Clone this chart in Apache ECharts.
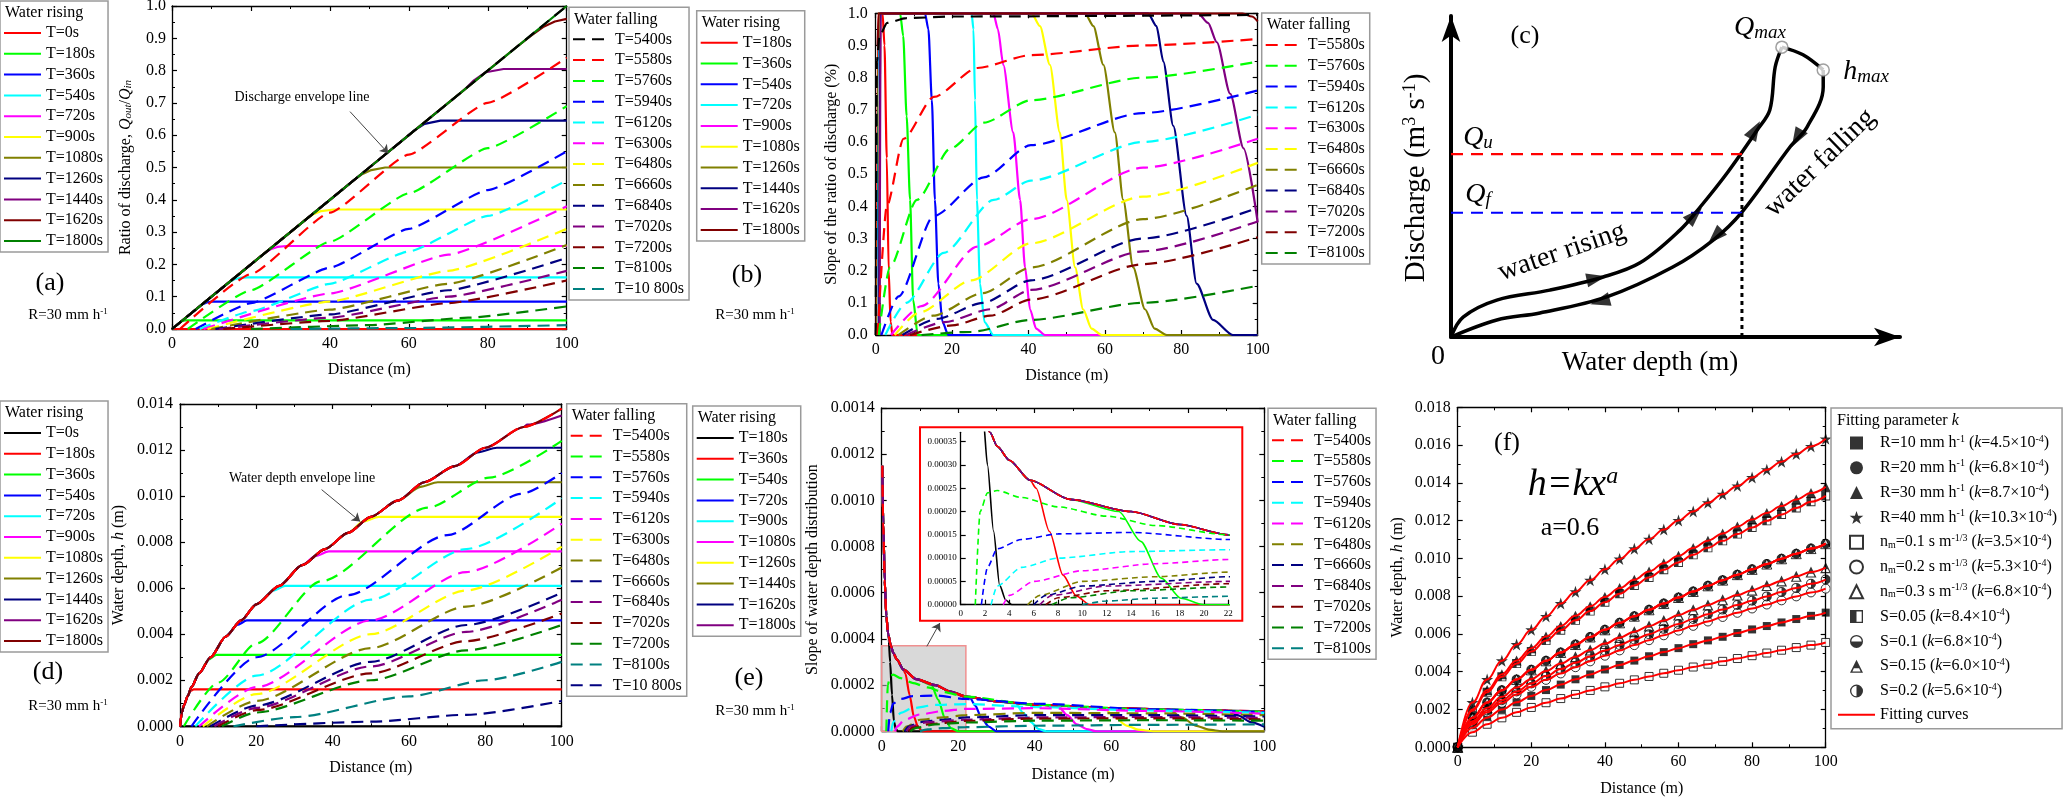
<!DOCTYPE html>
<html>
<head>
<meta charset="utf-8">
<script src="https://cdn.jsdelivr.net/npm/echarts@6/dist/echarts.min.js"></script>
<style>
html, body { margin: 0; padding: 0; background: #fff; }
#chart { width: 2067px; height: 798px; }
</style>
</head>
<body>
<div id="chart"></div>
<script>
/* ---------- data ---------- */

/* (a) ratio of discharge Qout/Qin vs distance */
var aRiseNames = ['T=0s', 'T=180s', 'T=360s', 'T=540s', 'T=720s', 'T=900s', 'T=1080s', 'T=1260s', 'T=1440s', 'T=1620s', 'T=1800s'];
var aEnvelope = [[0, 0], [10, 0.1], [20, 0.2], [30, 0.3], [40, 0.4], [50, 0.5], [60, 0.6], [70, 0.7], [80, 0.8], [90, 0.9], [100, 1.0]];
var aRiseTails = [
  [[0, 0], [100, 0]],
  [[2.4, 0.024], [3.5, 0.027], [100, 0.027]],
  [[7.5, 0.075], [8.8, 0.082], [10, 0.0845], [11.5, 0.085], [100, 0.085]],
  [[14.5, 0.145], [15.8, 0.154], [17.2, 0.158], [19, 0.16], [100, 0.16]],
  [[23.5, 0.235], [25, 0.247], [26.7, 0.254], [29, 0.257], [100, 0.257]],
  [[34, 0.34], [35.8, 0.355], [37.8, 0.365], [41, 0.37], [100, 0.37]],
  [[46, 0.46], [48, 0.478], [50.5, 0.492], [54, 0.5], [100, 0.5]],
  [[59, 0.59], [61.3, 0.614], [64, 0.635], [68, 0.645], [100, 0.645]],
  [[74, 0.74], [76.5, 0.77], [79.5, 0.795], [84, 0.805], [100, 0.805]],
  [[88, 0.88], [91, 0.908], [94, 0.935], [97, 0.952], [100, 0.96]],
  [[100, 1.0]]
];
var aFallNames = ['T=5400s', 'T=5580s', 'T=5760s', 'T=5940s', 'T=6120s', 'T=6300s', 'T=6480s', 'T=6660s', 'T=6840s', 'T=7020s', 'T=7200s', 'T=8100s', 'T=10 800s'];
var aFall = [
  [[0, 0], [100, 1.0]],
  [[2, 0], [20, 0.17], [40, 0.36], [60, 0.54], [80, 0.7], [100, 0.84]],
  [[4, 0], [20, 0.12], [40, 0.27], [60, 0.42], [80, 0.56], [100, 0.69]],
  [[6, 0], [20, 0.08], [40, 0.19], [60, 0.31], [80, 0.43], [100, 0.55]],
  [[7, 0], [20, 0.055], [40, 0.14], [60, 0.24], [80, 0.35], [100, 0.46]],
  [[8, 0], [40, 0.11], [70, 0.23], [100, 0.38]],
  [[9, 0], [40, 0.085], [70, 0.18], [100, 0.31]],
  [[10, 0], [40, 0.06], [70, 0.14], [100, 0.26]],
  [[11, 0], [40, 0.045], [70, 0.12], [100, 0.22]],
  [[12, 0], [40, 0.035], [70, 0.1], [100, 0.18]],
  [[13, 0], [40, 0.025], [70, 0.08], [100, 0.15]],
  [[20, 0], [50, 0.012], [75, 0.035], [100, 0.07]],
  [[30, 0], [60, 0.003], [100, 0.012]]
];

/* (b) slope of the ratio of discharge */
var bRiseNames = ['T=180s', 'T=360s', 'T=540s', 'T=720s', 'T=900s', 'T=1080s', 'T=1260s', 'T=1440s', 'T=1620s', 'T=1800s'];
var bRise = [
  [[0.3, 0], [0.6, 1], [1.8, 1], [2.3, 0.9], [2.9, 0.55], [3.4, 0.2], [3.9, 0.04], [4.4, 0], [100, 0]],
  [[0.5, 0], [0.8, 1], [6.4, 1], [7.2, 0.93], [8.1, 0.68], [9, 0.42], [9.8, 0.11], [11, 0], [100, 0]],
  [[0.6, 0], [0.9, 1], [12.9, 1], [13.8, 0.95], [14.7, 0.73], [15.5, 0.42], [16.4, 0.16], [17.5, 0.04], [19, 0], [100, 0]],
  [[0.7, 0], [1, 1], [25.1, 1], [25.6, 0.95], [26, 0.73], [26.5, 0.42], [27.3, 0.16], [28.5, 0.04], [30.8, 0], [100, 0]],
  [[0.8, 0], [1.1, 1], [30.8, 1], [32, 0.95], [33.4, 0.84], [36, 0.63], [37.8, 0.42], [39.1, 0.21], [40.4, 0.08], [42, 0.02], [44.3, 0], [100, 0]],
  [[0.8, 0], [1.1, 1], [40.8, 1], [43, 0.96], [45.6, 0.84], [48.2, 0.63], [50, 0.42], [52.2, 0.21], [54.3, 0.08], [56.5, 0.02], [59.2, 0], [100, 0]],
  [[0.9, 0], [1.2, 1], [54.8, 1], [57, 0.96], [59.6, 0.84], [62.6, 0.63], [64.8, 0.42], [67.4, 0.21], [70.5, 0.08], [73, 0.02], [76.2, 0], [100, 0]],
  [[0.9, 0], [1.2, 1], [71.3, 1], [73.5, 0.96], [75.3, 0.85], [77.9, 0.65], [81.4, 0.37], [84, 0.16], [88.3, 0.047], [93.5, 0], [100, 0]],
  [[1, 0], [1.3, 1], [84.4, 1], [87, 0.97], [89.3, 0.91], [92.8, 0.75], [96.3, 0.58], [100, 0.35]],
  [[0.5, 0.9], [0.8, 1], [96, 1], [98.5, 0.99], [100, 0.975]]
];
var bTopDashed = [[0, 0], [0.3, 0.85], [1, 0.93], [3, 0.97], [8, 0.985], [20, 0.99], [100, 0.995]];
var bFallNames = ['T=5580s', 'T=5760s', 'T=5940s', 'T=6120s', 'T=6300s', 'T=6480s', 'T=6660s', 'T=6840s', 'T=7020s', 'T=7200s', 'T=8100s'];
var bFall = [
  [[0.5, 0], [2.9, 0.4], [7.3, 0.61], [15.2, 0.74], [26.6, 0.83], [40.6, 0.87], [70, 0.9], [100, 0.92]],
  [[0.8, 0], [3.7, 0.21], [10.8, 0.42], [19.6, 0.58], [28.3, 0.66], [40.6, 0.73], [70, 0.8], [100, 0.85]],
  [[1.5, 0], [6, 0.12], [15.2, 0.37], [28.3, 0.49], [40.6, 0.59], [70, 0.69], [100, 0.76]],
  [[2.5, 0], [8, 0.1], [17.8, 0.255], [30.9, 0.42], [40.6, 0.48], [70, 0.6], [100, 0.685]],
  [[4, 0], [12, 0.09], [26.6, 0.275], [40.6, 0.36], [70, 0.52], [100, 0.61]],
  [[5, 0], [11.4, 0.07], [25, 0.17], [40.6, 0.285], [70, 0.43], [100, 0.535]],
  [[6, 0], [15, 0.06], [28, 0.13], [40.6, 0.21], [70, 0.36], [100, 0.467]],
  [[7, 0], [16, 0.05], [28, 0.1], [40.6, 0.17], [70, 0.3], [100, 0.395]],
  [[8, 0], [18, 0.04], [30, 0.08], [40.6, 0.14], [70, 0.26], [100, 0.353]],
  [[9, 0], [20, 0.03], [30, 0.06], [40.6, 0.11], [70, 0.22], [100, 0.304]],
  [[12, 0], [25, 0.01], [40.6, 0.047], [70, 0.1], [100, 0.153]]
];

/* (c) schematic loop: discharge vs water depth (arbitrary units) */
var cRising = [[0, 0], [2.7, 6.2], [10.2, 11.5], [22, 14.6], [33.9, 18.7], [42.1, 23.1], [51, 33.3], [55.5, 40.5], [61.5, 51.1], [68.2, 64.5], [71, 70.7], [72.2, 84.1], [73.7, 90.3]];
var cPeak = [[73.7, 90.3], [78.4, 87.9], [82.9, 83.2]];
var cFalling = [[82.9, 83.2], [82.9, 77.9], [79.3, 65.4], [75.5, 59.2], [64.8, 38.9], [58.4, 30.2], [49.4, 21.8], [34.7, 12.5], [19.8, 7.5], [10.2, 5.3], [0, 0]];
var cQu = 57.0;
var cQf = 38.7;
var cDepthMark = 64.8;
var cArrowPts = [[32.4, 18.3], [54.3, 38], [67.7, 64.5], [77, 61.9], [58.8, 31.2], [33.2, 11]];
var cArrowDir = [-78, -45, -30, 150, 135, 105];

/* (d) water depth vs distance */
var dRiseNames = ['T=0s', 'T=180s', 'T=360s', 'T=540s', 'T=720s', 'T=900s', 'T=1080s', 'T=1260s', 'T=1440s', 'T=1620s', 'T=1800s'];
var dEnvelope = [[0, 0], [0.5, 0.0006], [1, 0.0009], [2, 0.0013], [3, 0.0017], [5, 0.0023], [8, 0.003], [12, 0.0039], [16, 0.0046], [20, 0.0053], [26, 0.0061], [32, 0.007], [38, 0.0077], [44, 0.0084], [50, 0.0091], [57, 0.0098], [64, 0.0106], [72, 0.0113], [80, 0.0121], [90, 0.013], [100, 0.0138]];
var dRiseTails = [
  [[0, 0], [100, 0]],
  [[2.6, 0.00152], [3.6, 0.0016], [100, 0.0016]],
  [[7.5, 0.0029], [9.5, 0.0031], [100, 0.0031]],
  [[15, 0.0044], [17.5, 0.0046], [100, 0.0046]],
  [[24.5, 0.0059], [27.5, 0.0061], [100, 0.0061]],
  [[35.5, 0.0074], [39, 0.0076], [100, 0.0076]],
  [[48, 0.0089], [52, 0.0091], [100, 0.0091]],
  [[63, 0.0104], [67.5, 0.0106], [100, 0.0106]],
  [[78, 0.0119], [83, 0.0121], [100, 0.0121]],
  [[91, 0.0131], [100, 0.0135]],
  [[100, 0.0138]]
];
var dFallNames = ['T=5400s', 'T=5580s', 'T=5760s', 'T=5940s', 'T=6120s', 'T=6300s', 'T=6480s', 'T=6660s', 'T=6840s', 'T=7020s', 'T=7200s', 'T=8100s', 'T=10 800s'];
var dFall = [
  null,
  [[1, 0], [10, 0.0019], [20, 0.0036], [37, 0.0063], [65, 0.0095], [81, 0.0108], [100, 0.0124]],
  [[3, 0], [20, 0.003], [44, 0.0057], [70, 0.0083], [89.5, 0.0101], [100, 0.011]],
  [[4, 0], [20, 0.0022], [50, 0.0055], [75, 0.0077], [100, 0.0099]],
  [[5, 0], [20, 0.0017], [50, 0.0046], [75, 0.0067], [100, 0.0088]],
  [[6, 0], [20, 0.0014], [50, 0.004], [75, 0.0059], [100, 0.0078]],
  [[7, 0], [20, 0.0011], [50, 0.0034], [75, 0.0052], [100, 0.0069]],
  [[8, 0], [20, 0.0009], [50, 0.0028], [75, 0.0044], [100, 0.0058]],
  [[9, 0], [20, 0.0008], [50, 0.0026], [75, 0.0041], [100, 0.0055]],
  [[10, 0], [20, 0.0007], [50, 0.0023], [75, 0.0037], [100, 0.0049]],
  [[11, 0], [20, 0.0006], [50, 0.002], [75, 0.0033], [100, 0.0044]],
  [[14, 0], [30, 0.0004], [60, 0.0013], [80, 0.002], [100, 0.0028]],
  [[20, 0], [50, 0.0002], [75, 0.0005], [100, 0.0011]]
];

/* (e) slope of water depth distribution */
var eRiseNames = ['T=180s', 'T=360s', 'T=540s', 'T=720s', 'T=900s', 'T=1080s', 'T=1260s', 'T=1440s', 'T=1620s', 'T=1800s'];
var eEnvelope = [[0.15, 0.00115], [0.4, 0.0009], [0.8, 0.00065], [1.2, 0.0005], [1.7, 0.00042], [2.4, 0.00037], [3, 0.00034], [4, 0.00031], [5.7, 0.000267], [9, 0.000226], [14, 0.0002], [18, 0.000172], [22, 0.00015], [30, 0.00013], [40, 0.000115], [60, 0.0001], [80, 0.000092], [100, 0.000086]];
var eRiseTails = [
  [[1.85, 0.0004], [2.2, 0.0003], [2.7, 0.000158], [3.2, 0.000042], [3.7, 0.00001], [4.2, 0], [100, 0]],
  [[6.2, 0.00025], [7.3, 0.000157], [8.4, 0.000064], [9.5, 0.000019], [10.6, 0], [100, 0]],
  [[13, 0.0002], [14.8, 0.000136], [16.5, 0.000057], [18.1, 0.000014], [20, 0], [100, 0]],
  [[23, 0.000147], [24.5, 0.00011], [26, 0.00006], [28, 0.00002], [30, 0], [100, 0]],
  [[35, 0.00012], [37, 0.00008], [39, 0.00004], [41, 0.00001], [43, 0], [100, 0]],
  [[46, 0.00011], [48.5, 0.00007], [51, 0.00003], [53.5, 0.00001], [56, 0], [100, 0]],
  [[58, 0.000102], [61, 0.00006], [64, 0.000025], [67, 0.000007], [71, 0], [100, 0]],
  [[75, 0.000094], [78.5, 0.00006], [82, 0.000025], [85.5, 0.000007], [89, 0], [100, 0]],
  [[90, 0.00009], [93, 0.00007], [96.5, 0.00004], [100, 0.00002]],
  [[100, 0.000086]]
];
var eFallNames = ['T=5400s', 'T=5580s', 'T=5760s', 'T=5940s', 'T=6120s', 'T=6480s', 'T=6660s', 'T=6840s', 'T=7020s', 'T=7200s', 'T=8100s'];
var eFall = [
  null,
  [[1.2, 0], [1.6, 0.0002], [2.2, 0.00024], [3, 0.000245], [5, 0.00023], [8, 0.00021], [12, 0.00019], [16, 0.00017], [22, 0.00015], [40, 0.000115], [70, 0.000095], [100, 0.000085]],
  [[1.7, 0], [2.2, 0.00008], [3, 0.00012], [5, 0.00014], [8, 0.000152], [14, 0.000155], [22, 0.00014], [40, 0.00012], [70, 0.000095], [100, 0.000083]],
  [[2.5, 0], [3, 0.00004], [5, 0.00008], [8, 0.0001], [14, 0.000114], [22, 0.000118], [40, 0.000105], [70, 0.00009], [100, 0.00008]],
  [[3.5, 0], [4, 0.00002], [6, 0.00005], [10, 0.000073], [16, 0.000088], [22, 0.000097], [40, 0.0001], [70, 0.000088], [100, 0.000076]],
  [[5.5, 0], [6.5, 0.00002], [10, 0.00005], [16, 0.00006], [22, 0.00007], [40, 0.00008], [70, 0.000078], [100, 0.00007]],
  [[6, 0], [7, 0.00002], [10, 0.00004], [16, 0.00005], [22, 0.00006], [40, 0.00007], [70, 0.00007], [100, 0.000064]],
  [[6.5, 0], [7.5, 0.00002], [12, 0.00004], [22, 0.00005], [40, 0.00006], [70, 0.000062], [100, 0.000058]],
  [[7, 0], [8, 0.000015], [12, 0.00003], [22, 0.000045], [40, 0.000055], [70, 0.000056], [100, 0.000052]],
  [[7.5, 0], [9, 0.000015], [14, 0.00003], [22, 0.000038], [40, 0.000046], [70, 0.000048], [100, 0.000046]],
  [[10, 0], [12, 0.000008], [16, 0.000014], [22, 0.000018], [40, 0.000024], [70, 0.000028], [100, 0.00003]]
];

/* (f) water depth (mm) at distance, with fitting parameter k */
var fitDistance = [0, 4, 8, 12, 16, 20, 24, 28, 32, 36, 40, 44, 48, 52, 56, 60, 64, 68, 72, 76, 80, 84, 88, 92, 96, 100];
var depthK35 = [0, 0.80, 1.22, 1.56, 1.85, 2.11, 2.36, 2.58, 2.80, 3.01, 3.20, 3.39, 3.57, 3.75, 3.92, 4.08, 4.25, 4.40, 4.55, 4.70, 4.85, 4.99, 5.14, 5.28, 5.41, 5.55];
var depthK45 = [0, 1.03, 1.57, 2.00, 2.38, 2.72, 3.03, 3.32, 3.60, 3.86, 4.12, 4.36, 4.59, 4.82, 5.04, 5.25, 5.46, 5.66, 5.85, 6.05, 6.24, 6.42, 6.61, 6.79, 6.96, 7.13];
var depthK53 = [0, 1.22, 1.85, 2.35, 2.80, 3.20, 3.57, 3.91, 4.24, 4.55, 4.85, 5.13, 5.41, 5.67, 5.93, 6.18, 6.43, 6.66, 6.90, 7.12, 7.35, 7.56, 7.78, 7.99, 8.20, 8.40];
var depthK56 = [0, 1.29, 1.95, 2.49, 2.96, 3.38, 3.77, 4.14, 4.48, 4.81, 5.12, 5.42, 5.71, 5.99, 6.27, 6.53, 6.79, 7.04, 7.29, 7.53, 7.76, 7.99, 8.22, 8.44, 8.66, 8.88];
var depthK60 = [0, 1.38, 2.09, 2.67, 3.17, 3.62, 4.04, 4.43, 4.80, 5.15, 5.49, 5.81, 6.12, 6.42, 6.71, 7.00, 7.28, 7.54, 7.81, 8.06, 8.32, 8.56, 8.81, 9.05, 9.28, 9.51];
var depthK68 = [0, 1.56, 2.37, 3.02, 3.59, 4.10, 4.58, 5.02, 5.44, 5.84, 6.22, 6.59, 6.94, 7.28, 7.61, 7.93, 8.25, 8.55, 8.85, 9.14, 9.42, 9.70, 9.98, 10.25, 10.52, 10.78];
var depthK84 = [0, 1.93, 2.92, 3.73, 4.43, 5.07, 5.65, 6.20, 6.72, 7.21, 7.68, 8.13, 8.57, 8.99, 9.40, 9.79, 10.19, 10.56, 10.93, 11.29, 11.64, 11.99, 12.33, 12.67, 13.00, 13.31];
var depthK87 = [0, 2.00, 3.03, 3.87, 4.59, 5.25, 5.86, 6.42, 6.96, 7.47, 7.96, 8.43, 8.87, 9.31, 9.74, 10.14, 10.55, 10.94, 11.32, 11.69, 12.06, 12.41, 12.77, 13.12, 13.46, 13.79];
var depthK103 = [0, 2.37, 3.59, 4.58, 5.44, 6.22, 6.93, 7.61, 8.24, 8.84, 9.42, 9.97, 10.51, 11.02, 11.53, 12.01, 12.49, 12.95, 13.40, 13.84, 14.28, 14.70, 15.12, 15.53, 15.93, 16.33];
var fitNames = ['R=10 mm h-1 (k=4.5×10-4)', 'R=20 mm h-1 (k=6.8×10-4)', 'R=30 mm h-1 (k=8.7×10-4)', 'R=40 mm h-1 (k=10.3×10-4)',
  'nm=0.1 s m-1/3 (k=3.5×10-4)', 'nm=0.2 s m-1/3 (k=5.3×10-4)', 'nm=0.3 s m-1/3 (k=6.8×10-4)',
  'S=0.05 (k=8.4×10-4)', 'S=0.1 (k=6.8×10-4)', 'S=0.15 (k=6.0×10-4)', 'S=0.2 (k=5.6×10-4)'];
var fitRichLabels = ['R=10 mm h{sup|-1} ({i|k}=4.5×10{sup|-4})', 'R=20 mm h{sup|-1} ({i|k}=6.8×10{sup|-4})', 'R=30 mm h{sup|-1} ({i|k}=8.7×10{sup|-4})', 'R=40 mm h{sup|-1} ({i|k}=10.3×10{sup|-4})',
  'n{sub|m}=0.1 s m{sup|-1/3} ({i|k}=3.5×10{sup|-4})', 'n{sub|m}=0.2 s m{sup|-1/3} ({i|k}=5.3×10{sup|-4})', 'n{sub|m}=0.3 s m{sup|-1/3} ({i|k}=6.8×10{sup|-4})',
  'S=0.05 ({i|k}=8.4×10{sup|-4})', 'S=0.1 ({i|k}=6.8×10{sup|-4})', 'S=0.15 ({i|k}=6.0×10{sup|-4})', 'S=0.2 ({i|k}=5.6×10{sup|-4})'];
var fitValues = [depthK45, depthK68, depthK87, depthK103, depthK35, depthK53, depthK68, depthK84, depthK68, depthK60, depthK56];

/* ---------- styles ---------- */
var FONT = 'Liberation Serif';
var COL = {red: '#ff0000', green: '#00ff00', blue: '#0000ff', cyan: '#00ffff', magenta: '#ff00ff', yellow: '#ffff00',
  olive: '#808000', navy: '#000080', purple: '#800080', maroon: '#800000', dgreen: '#008000', teal: '#008080', black: '#000000'};
var DASH = [12, 7];

var aRiseCol = ['red', 'green', 'blue', 'cyan', 'magenta', 'yellow', 'olive', 'navy', 'purple', 'maroon', 'dgreen'];
var aFallCol = ['black', 'red', 'green', 'blue', 'cyan', 'magenta', 'yellow', 'olive', 'navy', 'purple', 'maroon', 'dgreen', 'teal'];
var bRiseCol = ['red', 'green', 'blue', 'cyan', 'magenta', 'yellow', 'olive', 'navy', 'purple', 'maroon'];
var bFallCol = ['red', 'green', 'blue', 'cyan', 'magenta', 'yellow', 'olive', 'navy', 'purple', 'maroon', 'dgreen'];
var dRiseCol = ['black', 'red', 'green', 'blue', 'cyan', 'magenta', 'yellow', 'olive', 'navy', 'purple', 'maroon'];
var dFallCol = ['red', 'green', 'blue', 'cyan', 'magenta', 'yellow', 'olive', 'navy', 'purple', 'maroon', 'dgreen', 'teal', 'navy'];
var eRiseCol = ['black', 'red', 'green', 'blue', 'cyan', 'magenta', 'yellow', 'olive', 'navy', 'purple'];
var eFallCol = ['red', 'green', 'blue', 'cyan', 'magenta', 'olive', 'navy', 'purple', 'maroon', 'dgreen', 'teal'];

function rich(size) {
  return {
    sup: {fontFamily: FONT, fontSize: Math.round(size * 0.62), verticalAlign: 'bottom', padding: [0, 0, Math.round(size * 0.42), 0]},
    sub: {fontFamily: FONT, fontSize: Math.round(size * 0.65), verticalAlign: 'bottom', padding: [Math.round(size * 0.3), 0, 0, 0]},
    i: {fontFamily: FONT, fontStyle: 'italic', fontSize: size},
    isub: {fontFamily: FONT, fontStyle: 'italic', fontSize: Math.round(size * 0.68), verticalAlign: 'bottom', padding: [Math.round(size * 0.3), 0, 0, 0]},
    isup: {fontFamily: FONT, fontStyle: 'italic', fontSize: Math.round(size * 0.62), verticalAlign: 'bottom', padding: [0, 0, Math.round(size * 0.45), 0]}
  };
}

var grids = [], xAxes = [], yAxes = [], series = [], legends = [], graphics = [];

function axisDef(gi, o, pos, main) {
  return {
    gridIndex: gi, type: 'value', position: pos, min: o.min, max: o.max, interval: o.interval,
    axisLine: {show: true, onZero: false, lineStyle: {color: '#000', width: 1.3}},
    axisTick: {show: true, inside: true, length: 5, lineStyle: {color: '#000', width: 1.2}},
    minorTick: {show: o.minor !== false, splitNumber: 2, length: 3, lineStyle: {color: '#000', width: 1}},
    axisLabel: {show: main, color: '#000', fontFamily: FONT, fontSize: o.fs || 16, margin: o.margin || 7,
      formatter: o.fmt, showMaxLabel: o.showMax},
    splitLine: {show: false},
    name: main ? (o.name || '') : '', nameLocation: 'middle', nameGap: o.gap, nameRotate: o.rot,
    nameTextStyle: {color: '#000', fontFamily: FONT, fontSize: 16, rich: rich(16)}
  };
}

function addGrid(r, xo, yo, mirror) {
  var gi = grids.length;
  grids.push({left: r[0], top: r[1], width: r[2], height: r[3], containLabel: false, outerBoundsMode: 'none'});
  var xi = xAxes.length, yi = yAxes.length;
  xAxes.push(axisDef(gi, xo, 'bottom', true));
  yAxes.push(axisDef(gi, yo, 'left', true));
  if (mirror !== false) {
    xAxes.push(axisDef(gi, xo, 'top', false));
    yAxes.push(axisDef(gi, yo, 'right', false));
  }
  return {x: xi, y: yi};
}

function addLine(name, data, color, dashed, ax, extra) {
  var s = {
    type: 'line', name: name, data: data, xAxisIndex: ax.x, yAxisIndex: ax.y,
    symbol: 'none', showSymbol: false, smooth: 0.25, smoothMonotone: 'x', silent: true, animation: false,
    lineStyle: {color: color, width: 2.2, type: dashed ? DASH : 'solid'},
    itemStyle: {color: color}
  };
  if (extra) for (var k in extra) s[k] = extra[k];
  series.push(s);
  return s;
}

function withEnvelope(env, tail) {
  return env.filter(function (p) { return p[0] < tail[0][0]; }).concat(tail);
}

function addLegend(prefix, names, left, top, title) {
  legends.push({
    show: true, orient: 'vertical', left: left, top: top, padding: [24, 5, 3, 3],
    itemWidth: 37, itemHeight: 12, itemGap: 4.8, selectedMode: false,
    borderColor: '#9a9a9a', borderWidth: 1.5, backgroundColor: '#fff',
    itemStyle: {opacity: 0},
    data: names.map(function (n) { return prefix + n; }),
    formatter: function (n) { return n.slice(prefix.length); },
    textStyle: {color: '#000', fontFamily: FONT, fontSize: 16, lineHeight: 16}
  });
  text(left + 5, top + 12, title, 16, {align: 'left'});
}

function text(x, y, str, size, opt) {
  opt = opt || {};
  graphics.push({
    type: 'text', x: x, y: y, rotation: opt.rot || 0, z: 100, silent: true,
    style: {text: str, fontFamily: FONT, fontSize: size, fill: '#000', align: opt.align || 'center',
      verticalAlign: 'middle', fontStyle: opt.italic ? 'italic' : 'normal', rich: rich(size)}
  });
}

function arrowMark(from, to) {
  return {silent: true, symbol: ['none', 'arrow'], symbolSize: 8, animation: false,
    lineStyle: {color: '#444', width: 1, type: 'solid'}, label: {show: false},
    data: [[{coord: from}, {coord: to}]]};
}

var distAxis = {min: 0, max: 100, interval: 20, name: 'Distance (m)', gap: 33};

/* ---------- (a) ---------- */
var axA = addGrid([172, 6, 394.7, 323], distAxis,
  {min: 0, max: 1, interval: 0.1, fmt: function (v) { return v.toFixed(1); }, margin: 6,
   name: 'Ratio of discharge, {i|Q}{isub|out}/{i|Q}{isub|in}', gap: 38});
aRiseNames.forEach(function (n, i) {
  addLine('a:' + n, withEnvelope(aEnvelope, aRiseTails[i]), COL[aRiseCol[i]], false, axA, {smooth: false});
});
aFallNames.forEach(function (n, i) {
  var s = addLine('a:' + n, aFall[i], COL[aFallCol[i]], true, axA, {smooth: 0.15});
  if (i === 0) s.markLine = arrowMark([45.1, 0.673], [54.8, 0.544]);
});
addLegend('a:', aRiseNames, 0, 1, 'Water rising');
addLegend('a:', aFallNames, 569, 7.3, 'Water falling');
text(50, 283, '(a)', 26);
text(68, 315, 'R=30 mm h{sup|-1}', 15);
text(302, 97, 'Discharge envelope line', 14);

/* ---------- (b) ---------- */
var axB = addGrid([875.7, 13.3, 382, 321.7], distAxis,
  {min: 0, max: 1, interval: 0.1, fmt: function (v) { return v.toFixed(1); }, margin: 8,
   name: 'Slope of the ratio of discharge (%)', gap: 36});
bRiseNames.forEach(function (n, i) {
  addLine('b:' + n, bRise[i], COL[bRiseCol[i]], false, axB);
});
addLine('b:T=5400s', bTopDashed, COL.black, true, axB);
bFallNames.forEach(function (n, i) {
  addLine('b:' + n, bFall[i], COL[bFallCol[i]], true, axB);
});
addLegend('b:', bRiseNames, 696.7, 10.7, 'Water rising');
addLegend('b:', bFallNames, 1261.7, 13, 'Water falling');
text(747, 275, '(b)', 26);
text(755, 315, 'R=30 mm h{sup|-1}', 15);

/* ---------- (c) ---------- */
var gc = grids.length;
grids.push({left: 1451, top: 16, width: 449, height: 321, containLabel: false, outerBoundsMode: 'none'});
var cAxis = function (pos) {
  return {gridIndex: gc, type: 'value', position: pos, min: 0, max: 100,
    axisLine: {show: true, onZero: false, symbol: ['none', 'arrow'], symbolSize: [14, 26], lineStyle: {color: '#000', width: 4}},
    axisTick: {show: false}, axisLabel: {show: false}, splitLine: {show: false}};
};
var axC = {x: xAxes.length, y: yAxes.length};
xAxes.push(cAxis('bottom'));
yAxes.push(cAxis('left'));
var cLoop = {smooth: 0.35, smoothMonotone: null, lineStyle: {color: '#000', width: 3.5, type: 'solid'}};
addLine('c:rising', cRising, '#000', false, axC, cLoop);
addLine('c:peak', cPeak, '#000', false, axC, cLoop);
addLine('c:falling', cFalling, '#000', false, axC, cLoop);
addLine('c:Qu', [[0, cQu], [cDepthMark, cQu]], COL.red, true, axC, {smooth: false, lineStyle: {color: COL.red, width: 2.2, type: [12, 8]}});
addLine('c:Qf', [[0, cQf], [cDepthMark, cQf]], COL.blue, true, axC, {smooth: false, lineStyle: {color: COL.blue, width: 2.2, type: [12, 8]}});
addLine('c:depth', [[cDepthMark, 0], [cDepthMark, cQu]], '#000', true, axC, {smooth: false, lineStyle: {color: '#000', width: 3, type: [4, 4]}});
series.push({type: 'scatter', name: 'c:arrows', xAxisIndex: axC.x, yAxisIndex: axC.y, silent: true, animation: false,
  symbol: 'triangle', symbolSize: [14, 20], itemStyle: {color: '#000'}, z: 5,
  data: cArrowPts.map(function (p, i) { return {value: p, symbolRotate: cArrowDir[i]}; })});
series.push({type: 'scatter', name: 'c:extremes', xAxisIndex: axC.x, yAxisIndex: axC.y, silent: true, animation: false,
  symbol: 'circle', symbolSize: 12, itemStyle: {color: '#fff', borderColor: '#888', borderWidth: 1.5}, z: 6,
  data: [cPeak[0], cPeak[cPeak.length - 1]]});
text(1416, 178, 'Discharge (m{sup|3} s{sup|-1})', 29, {rot: Math.PI / 2});
text(1650, 363, 'Water depth (m)', 27);
text(1438, 357, '0', 28);
text(1525, 36, '(c)', 26);
text(1478, 138, '{i|Q}{isub|u}', 28);
text(1478, 195, '{i|Q}{isub|f}', 28);
text(1760, 28, '{i|Q}{isub|max}', 28);
text(1866, 72, '{i|h}{isub|max}', 28);
text(1562, 252, 'water rising', 28, {rot: 0.33});
text(1820, 163, 'water falling', 28, {rot: 0.77});

/* ---------- (d) ---------- */
var axD = addGrid([180, 404, 381.7, 322.3], distAxis,
  {min: 0, max: 0.014, interval: 0.002, fmt: function (v) { return v.toFixed(3); },
   name: 'Water depth, {i|h} (m)', gap: 53});
dRiseNames.forEach(function (n, i) {
  addLine('d:' + n, withEnvelope(dEnvelope, dRiseTails[i]), COL[dRiseCol[i]], false, axD);
});
dFallNames.forEach(function (n, i) {
  var s = addLine('d:' + n, i === 0 ? dEnvelope : dFall[i], COL[dFallCol[i]], true, axD);
  if (i === 0) s.markLine = arrowMark([37.1, 0.01028], [47.2, 0.0089]);
});
addLegend('d:', dRiseNames, 0, 401, 'Water rising');
addLegend('d:', dFallNames, 566.7, 403.7, 'Water falling');
text(48, 672, '(d)', 26);
text(68, 706, 'R=30 mm h{sup|-1}', 15);
text(302, 478, 'Water depth envelope line', 14);

/* ---------- (e) ---------- */
var axE = addGrid([881.7, 408, 382.6, 323.3], {min: 0, max: 100, interval: 20, name: 'Distance (m)', gap: 35},
  {min: 0, max: 0.0014, interval: 0.0002, fmt: function (v) { return v.toFixed(4); },
   name: 'Slope of water depth distribution', gap: 61});
var axI = addGrid([960.7, 432.3, 267.6, 172.4], {min: 0, max: 22, interval: 2, fs: 9, margin: 4, minor: false},
  {min: 0, max: 0.00037, interval: 0.00005, fs: 9, margin: 4, minor: false, showMax: false,
   fmt: function (v) { return v.toFixed(5); }}, false);
[axE, axI].forEach(function (ax, k) {
  var pre = k === 0 ? 'e:' : 'ei:';
  eRiseNames.forEach(function (n, i) {
    addLine(pre + n, withEnvelope(eEnvelope, eRiseTails[i]), COL[eRiseCol[i]], false, ax,
      k === 1 ? {lineStyle: {color: COL[eRiseCol[i]], width: 1.6, type: 'solid'}} : null);
  });
  eFallNames.forEach(function (n, i) {
    var s = addLine(pre + n, i === 0 ? eEnvelope : eFall[i], COL[eFallCol[i]], true, ax,
      k === 1 ? {lineStyle: {color: COL[eFallCol[i]], width: 1.6, type: [6, 4]}} : null);
    if (k === 0 && i === 0) {
      s.markLine = arrowMark([11.8, 0.000368], [15.2, 0.000469]);
      s.markArea = {silent: true, itemStyle: {color: 'rgba(185,185,185,0.55)', borderColor: '#f09090', borderWidth: 1.5},
        data: [[{coord: [0, 0]}, {coord: [22, 0.00037]}]]};
    }
  });
});
graphics.push({type: 'rect', silent: true, z: 50, shape: {x: 920, y: 427.3, width: 322.3, height: 193.4},
  style: {fill: 'none', stroke: '#ff0000', lineWidth: 2}});
addLegend('e:', eRiseNames, 692.7, 406, 'Water rising');
addLegend('e:', eFallNames, 1268, 408.3, 'Water falling');
text(749, 678, '(e)', 26);
text(755, 711, 'R=30 mm h{sup|-1}', 15);

/* ---------- (f) ---------- */
var axF = addGrid([1457.7, 407.3, 368, 340], {min: 0, max: 100, interval: 20, name: 'Distance (m)', gap: 33, margin: 6},
  {min: 0, max: 18, interval: 2, fmt: function (v) { return (v / 1000).toFixed(3); },
   name: 'Water depth, {i|h} (m)', gap: 52});
var square = 'path://M0,0H10V10H0Z';
var triangle = 'path://M5,0L10,10L0,10Z';
var halfSquare = 'path://M0,0H10V10H0Z M5,1V9H9V1Z';
var halfCircleTop = 'path://M5,0A5,5 0 1,1 5,10A5,5 0 1,1 5,0Z M9,5A4,4 0 0,0 1,5Z';
var halfCircleLeft = 'path://M5,0A5,5 0 1,1 5,10A5,5 0 1,1 5,0Z M5,1A4,4 0 0,0 5,9Z';
var halfTriangle = 'path://M5,0L10,10L0,10Z M3,6.5L1.8,9L8.2,9L7,6.5Z';
var star = 'path://M5,0L6.2,3.6L10,3.6L6.9,5.9L8.1,9.5L5,7.3L1.9,9.5L3.1,5.9L0,3.6L3.8,3.6Z';
var fitSymbols = [
  {s: square, c: '#000', sz: 8}, {s: 'circle', c: '#000', sz: 9}, {s: triangle, c: '#000', sz: 10}, {s: star, c: '#000', sz: 12},
  {s: square, c: '#fff', sz: 8, b: true}, {s: 'circle', c: '#fff', sz: 9, b: true}, {s: triangle, c: '#fff', sz: 10, b: true},
  {s: halfSquare, c: '#000', sz: 9}, {s: halfCircleTop, c: '#000', sz: 10}, {s: halfTriangle, c: '#000', sz: 11}, {s: halfCircleLeft, c: '#000', sz: 10}
];
fitNames.forEach(function (n, i) {
  addLine('Fitting curves', fitDistance.map(function (x, j) { return [x, fitValues[i][j]]; }), COL.red, false, axF,
    {smooth: 0.4, z: 4, lineStyle: {color: COL.red, width: 2, type: 'solid'}});
});
fitNames.forEach(function (n, i) {
  var sym = fitSymbols[i];
  series.push({type: 'scatter', name: n, xAxisIndex: axF.x, yAxisIndex: axF.y, silent: true, animation: false, z: 3,
    symbol: sym.s, symbolSize: sym.sz,
    itemStyle: {color: sym.c, borderColor: sym.b ? '#000' : 'transparent', borderWidth: sym.b ? 1 : 0},
    data: fitDistance.map(function (x, j) { return [x, fitValues[i][j]]; })});
});
var fitLegendRich = {};
fitNames.forEach(function (n, i) { fitLegendRich[n] = fitRichLabels[i]; });
legends.push({
  show: true, orient: 'vertical', left: 1831, top: 408, padding: [26, 5, 6, 6],
  itemWidth: 37, itemHeight: 13, itemGap: 7.8, selectedMode: false,
  borderColor: '#9a9a9a', borderWidth: 1.5, backgroundColor: '#fff',
  data: fitNames.concat([{name: 'Fitting curves', itemStyle: {opacity: 0}}]),
  formatter: function (n) { return fitLegendRich[n] || n; },
  textStyle: {color: '#000', fontFamily: FONT, fontSize: 16, lineHeight: 16,
    rich: {sup: {fontFamily: FONT, fontSize: 10, verticalAlign: 'bottom', padding: [0, 0, 7, 0], lineHeight: 16},
           sub: {fontFamily: FONT, fontSize: 10, verticalAlign: 'bottom', padding: [4, 0, 0, 0], lineHeight: 16},
           i: {fontFamily: FONT, fontStyle: 'italic', fontSize: 16, lineHeight: 16}}}
});
text(1837, 421, 'Fitting parameter {i|k}', 16, {align: 'left'});
text(1507, 443, '(f)', 26);
text(1573, 485, '{i|h=kx}{isup|a}', 38);
text(1570, 528, 'a=0.6', 26);

/* ---------- render ---------- */
var chart = echarts.init(document.getElementById('chart'));
chart.setOption({
  backgroundColor: '#fff',
  animation: false,
  textStyle: {fontFamily: FONT},
  grid: grids,
  xAxis: xAxes,
  yAxis: yAxes,
  legend: legends,
  series: series,
  graphic: graphics
});
</script>
</body>
</html>
